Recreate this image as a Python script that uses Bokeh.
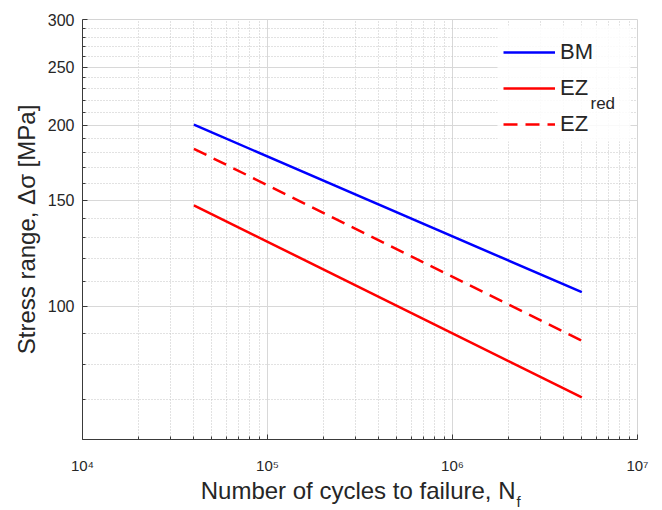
from bokeh.plotting import figure
from bokeh.layouts import column
from bokeh.models import (Range1d, FixedTicker, Legend, LegendItem, Label,
                          BasicTickFormatter, BoxAnnotation)
from bokeh.embed import file_html
from bokeh.resources import INLINE

# ---- data ----
cycles = [4e4, 5e6]
bm = [200.5, 105.5]
ez_red = [147.2, 70.5]
ez = [182.8, 87.6]

x_major = [1e4, 1e5, 1e6, 1e7]
x_minor = [m * 10 ** k for k in (4, 5, 6) for m in range(2, 10)]
x_tick_labels = ["10⁴", "10⁵", "10⁶", "10⁷"]
y_major = [100, 150, 200, 250, 300]
y_minor = [v for v in range(60, 300, 10) if v not in y_major]
y_tick_labels = ["100", "150", "200", "250", "300"]

FONT = "Liberation Sans"
AX = "#3a3a3a"
TXT = "#262626"

p = figure(width=662, height=476, x_axis_type="log", y_axis_type="log",
           x_range=Range1d(1e4, 1e7), y_range=Range1d(60, 300),
           output_backend="svg", toolbar_location=None,
           min_border_left=82, min_border_right=25, min_border_top=19, min_border_bottom=36)
p.background_fill_color = "white"
p.border_fill_color = "white"
p.outline_line_color = "#d4d4d4"

xt = FixedTicker(ticks=x_major, minor_ticks=x_minor)
yt = FixedTicker(ticks=y_major, minor_ticks=y_minor)
p.xaxis.ticker = xt
p.xgrid.ticker = xt
p.yaxis.ticker = yt
p.ygrid.ticker = yt
p.xaxis.major_label_overrides = {int(v): s for v, s in zip(x_major, x_tick_labels)}
p.yaxis.formatter = BasicTickFormatter()
p.yaxis.major_label_overrides = {v: s for v, s in zip(y_major, y_tick_labels)}

for ax in (p.xaxis, p.yaxis):
    ax.axis_line_color = AX
    ax.major_tick_line_color = AX
    ax.minor_tick_line_color = AX
    ax.major_tick_in = 5
    ax.major_tick_out = 0
    ax.minor_tick_in = 3
    ax.minor_tick_out = 0
    ax.major_label_text_font = FONT
    ax.major_label_text_color = TXT

p.xaxis.major_label_text_font_size = "15px"
p.xaxis.major_label_standoff = 17
p.yaxis.major_label_text_font_size = "16px"
p.yaxis.major_label_standoff = 8
p.yaxis.axis_label = "Stress range, Δσ [MPa]"
p.yaxis.axis_label_text_font = FONT
p.yaxis.axis_label_text_font_size = "24px"
p.yaxis.axis_label_text_font_style = "normal"
p.yaxis.axis_label_text_color = TXT
p.yaxis.axis_label_standoff = 5

for g in (p.xgrid, p.ygrid):
    g.grid_line_color = "#d8d8d8"
    g.grid_line_width = 1
    g.minor_grid_line_color = "#c4c4c4"
    g.minor_grid_line_dash = "1 2"
    g.minor_grid_line_width = 1

r_bm = p.line(cycles, bm, line_color="#0000ff", line_width=2.5)
r_red = p.line(cycles, ez_red, line_color="#ff0000", line_width=2.5)
r_ez = p.line(cycles, ez, line_color="#ff0000", line_width=2.5, line_dash="14 8")

# legend background box (frame-relative screen px)
p.add_layout(BoxAnnotation(left=415, right=548, top=414, bottom=298,
                           left_units="screen", right_units="screen",
                           top_units="screen", bottom_units="screen",
                           fill_color="white", fill_alpha=0.85, line_color=None))

legend = Legend(items=[LegendItem(label="BM", renderers=[r_bm]),
                       LegendItem(label="EZ", renderers=[r_red]),
                       LegendItem(label="EZ", renderers=[r_ez])],
                location="top_right", border_line_color=None,
                background_fill_alpha=0.0,
                label_text_font=FONT, label_text_font_size="22px", label_text_color=TXT,
                glyph_width=52, glyph_height=24, label_height=24, spacing=10,
                padding=8, margin=20, label_standoff=5, label_width=57)
p.add_layout(legend)

p.add_layout(Label(x=508, y=336, x_units="screen", y_units="screen", text="red",
                   text_font=FONT, text_font_size="17px", text_color=TXT,
                   text_align="left", text_baseline="alphabetic"))

# x-axis title strip (with subscript f); frame aligned with the main plot
p2 = figure(width=662, height=34, x_range=Range1d(0, 1), y_range=Range1d(0, 1),
            output_backend="svg", toolbar_location=None,
            x_axis_location=None, y_axis_location=None, min_border=0)
p2.grid.visible = False
p2.outline_line_color = None
p2.background_fill_color = "white"
p2.border_fill_color = "white"
p2.add_layout(Label(x=433, y=20, x_units="screen", y_units="screen",
                    text="Number of cycles to failure, N",
                    text_font=FONT, text_font_size="24px", text_color=TXT,
                    text_align="right", text_baseline="alphabetic"))
p2.add_layout(Label(x=434, y=9, x_units="screen", y_units="screen", text="f",
                    text_font=FONT, text_font_size="15px", text_color=TXT,
                    text_align="left", text_baseline="alphabetic"))

layout = column(p, p2, spacing=0)
open("out.html", "w").write(file_html(layout, INLINE))
